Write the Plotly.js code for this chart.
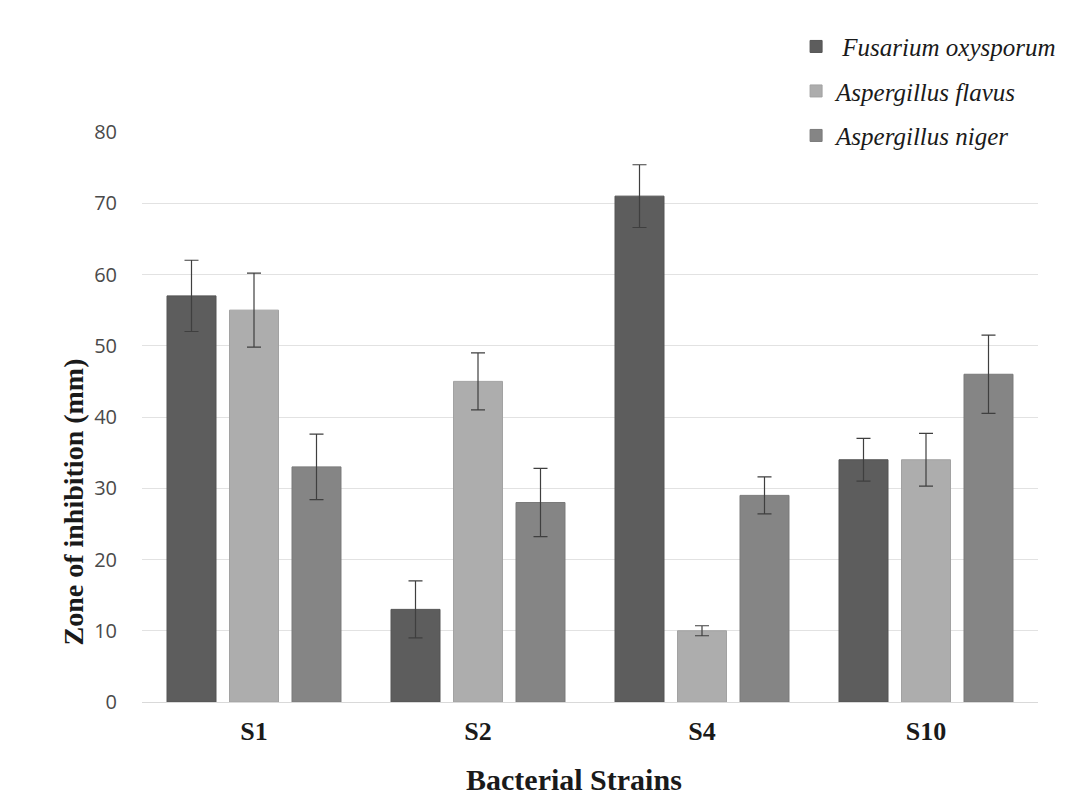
<!DOCTYPE html>
<html>
<head>
<meta charset="utf-8">
<script src="https://cdn.plot.ly/plotly-3.0.1.min.js"></script>
<style>
  html, body { margin: 0; padding: 0; background: #ffffff; }
  #chart { width: 1089px; height: 797px; }
</style>
</head>
<body>
<div id="chart"></div>
<script>
// Bacterial strains tested against three fungal pathogens
const strains = ["S1", "S2", "S4", "S10"];

const seriesNames = ["\u00a0Fusarium oxysporum", "Aspergillus flavus", "Aspergillus niger"];

// Mean zone of inhibition (mm)
const fusariumOxysporum = [57, 13, 71, 34];
const aspergillusFlavus = [55, 45, 10, 34];
const aspergillusNiger  = [33, 28, 29, 46];

// Standard deviations
const fusariumOxysporumErr = [5, 4, 4.4, 3];
const aspergillusFlavusErr = [5.2, 4, 0.7, 3.7];
const aspergillusNigerErr  = [4.6, 4.8, 2.6, 5.5];

const fillColors = ["#5d5d5d", "#adadad", "#858585"];
const edgeColors = ["#545454", "#a2a2a2", "#7a7a7a"];

const values = [fusariumOxysporum, aspergillusFlavus, aspergillusNiger];
const errors = [fusariumOxysporumErr, aspergillusFlavusErr, aspergillusNigerErr];

const traces = values.map((v, i) => ({
  type: "bar",
  name: "<i>" + seriesNames[i] + "</i>",
  legendgroup: "g" + i,
  x: strains,
  y: v,
  marker: { color: fillColors[i], line: { color: edgeColors[i], width: 1 } },
  error_y: {
    type: "data",
    array: errors[i],
    visible: true,
    color: "#3f3f3f",
    thickness: 1.2,
    width: 7
  }
}));

const serif = "Liberation Serif";

const layout = {
  width: 1089,
  height: 797,
  paper_bgcolor: "#ffffff",
  plot_bgcolor: "#ffffff",
  margin: { l: 142, r: 51, t: 132, b: 95 },
  barmode: "group",
  bargap: 0.163,
  bargroupgap: 0.216,
  font: { family: "Open Sans, sans-serif", color: "#595959", size: 20 },
  xaxis: {
    type: "category",
    range: [-0.5, 3.5],
    showgrid: false,
    showline: false,
    zeroline: false,
    ticks: "",
    ticklabelstandoff: 11,
    tickfont: { family: serif, size: 26, color: "#1a1a1a", weight: "bold" }
  },
  yaxis: {
    range: [0, 80],
    tickvals: [0, 10, 20, 30, 40, 50, 60, 70, 80],
    showgrid: true,
    gridcolor: "#e2e2e2",
    gridwidth: 1,
    zeroline: true,
    zerolinecolor: "#d9d9d9",
    zerolinewidth: 1,
    showline: false,
    ticks: "",
    ticklabelstandoff: 24,
    tickfont: { family: "Open Sans, sans-serif", size: 20, color: "#4a4a4a" }
  },
  showlegend: true,
  legend: {
    x: 0.73,
    xanchor: "left",
    y: 1.19,
    yanchor: "top",
    traceorder: "grouped",
    tracegroupgap: 9,
    bgcolor: "rgba(0,0,0,0)",
    font: { family: serif, size: 25, color: "#1a1a1a" }
  },
  annotations: [
    {
      text: "<b>Zone of inhibition (mm)</b>",
      xref: "paper", yref: "paper",
      x: -0.077, y: 0.35,
      xanchor: "center", yanchor: "middle",
      textangle: -90,
      showarrow: false,
      font: { family: serif, size: 28, color: "#1a1a1a" }
    },
    {
      text: "<b>Bacterial Strains</b>",
      xref: "paper", yref: "paper",
      x: 0.482, y: -0.136,
      xanchor: "center", yanchor: "middle",
      showarrow: false,
      font: { family: serif, size: 30, color: "#1a1a1a" }
    }
  ]
};

Plotly.newPlot("chart", traces, layout, { displayModeBar: false, responsive: false });
</script>
</body>
</html>
